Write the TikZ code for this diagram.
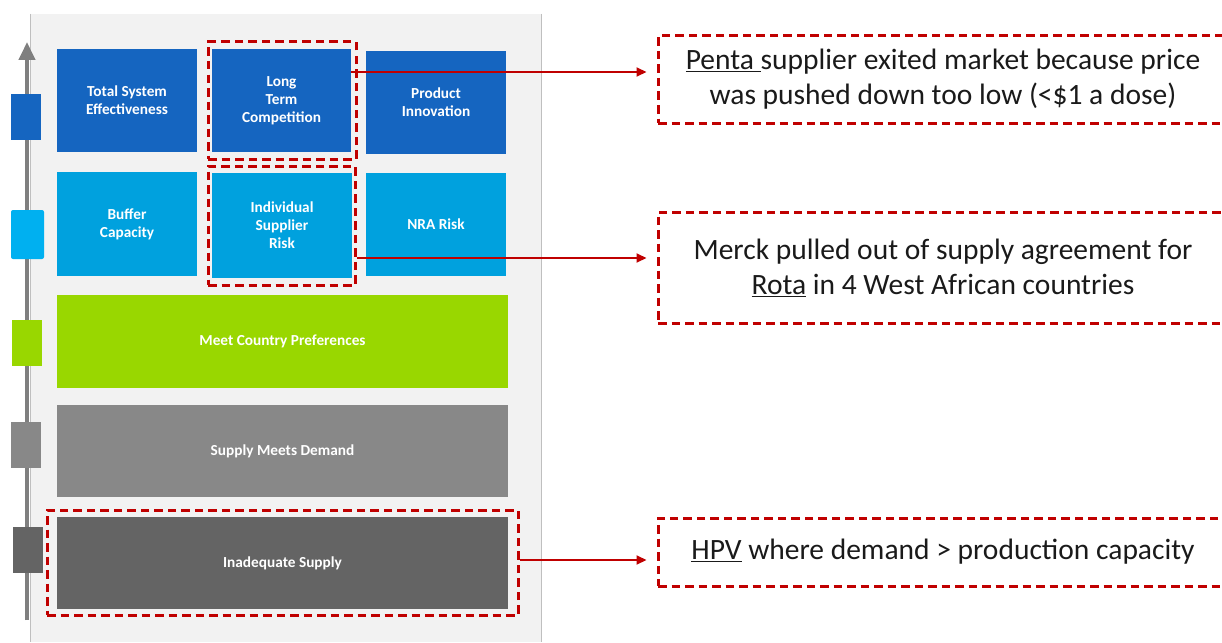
\documentclass[tikz,border=0pt]{standalone}
\usepackage{fontspec}
\setmainfont{Carlito}
\usetikzlibrary{arrows.meta}
\definecolor{dblue}{HTML}{1565C0}
\definecolor{lblue}{HTML}{00A1DE}
\definecolor{legblue}{HTML}{00B0F0}
\definecolor{lgreen}{HTML}{99D700}
\definecolor{mgray}{HTML}{888888}
\definecolor{dgray}{HTML}{646464}
\definecolor{redd}{HTML}{C00000}
\definecolor{panelfill}{HTML}{F2F2F2}
\definecolor{panelline}{HTML}{BFBFBF}
\definecolor{axisgray}{HTML}{7F7F7F}
\definecolor{notetext}{HTML}{1A1A1A}
\tikzset{
  tile/.style={inner sep=0pt, text=white, align=center,
    font=\bfseries\fontsize{15.3}{18}\selectfont},
  legendsq/.style={inner sep=0pt, minimum width=30pt, minimum height=46pt},
  redbox/.style={draw=redd, line width=3pt, dash pattern=on 8.5pt off 5pt, inner sep=0pt},
  notebox/.style={redbox, align=center, font=\fontsize{29.5}{35}\selectfont, text=notetext},
  conn/.style={draw=redd, line width=2pt, -{Triangle[length=10pt,width=9pt]}, shorten >=10pt}
}
\begin{document}
\begin{tikzpicture}[x=1pt,y=-1pt]
\useasboundingbox (0,0) rectangle (1222,642);
\clip (0,0) rectangle (1222,642);
\fill[white] (0,0) rectangle (1222,642);
% panel
\fill[panelfill] (30,14) rectangle (541,642);
\draw[panelline, line width=1pt] (30,14) -- (30,642);
\draw[panelline, line width=1pt] (541,14) -- (541,642);
% axis
\coordinate (axb) at (27,620);
\coordinate (axt) at (27,42);
\draw[axisgray, line width=4pt, -{Triangle[length=18pt,width=16pt]}] (axb) -- (axt);
% legend squares
\node[legendsq, fill=dblue] (lg1) at (26,117) {};
\node[legendsq, fill=legblue, rounded corners=2pt, minimum width=33pt, minimum height=49pt] (lg2) at (27.5,234.5) {};
\node[legendsq, fill=lgreen] (lg3) at (27,343) {};
\node[legendsq, fill=mgray] (lg4) at (26,445) {};
\node[legendsq, fill=dgray] (lg5) at (28,550) {};
% tiles
\node[tile, fill=dblue, minimum width=140pt, minimum height=103pt] (tse) at (127,100.5) {Total System\\Effectiveness};
\node[tile, fill=dblue, minimum width=139pt, minimum height=103pt] (ltc) at (281.5,100.5) {Long\\Term\\Competition};
\node[tile, fill=dblue, minimum width=140pt, minimum height=103pt] (pin) at (436,102.5) {Product\\Innovation};
\node[tile, fill=lblue, minimum width=140pt, minimum height=104pt] (buf) at (127,224) {Buffer\\Capacity};
\node[tile, fill=lblue, minimum width=140pt, minimum height=105pt] (isr) at (282,225.5) {Individual\\Supplier\\Risk};
\node[tile, fill=lblue, minimum width=140pt, minimum height=103pt] (nra) at (436,224.5) {NRA Risk};
\node[tile, fill=lgreen, minimum width=451pt, minimum height=93pt] (mcp) at (282.5,341.5) {Meet Country Preferences};
\node[tile, fill=mgray, minimum width=451pt, minimum height=92pt] (smd) at (282.5,451) {Supply Meets Demand};
\node[tile, fill=dgray, minimum width=451pt, minimum height=92pt] (ias) at (282.5,563) {Inadequate Supply};
% highlight frames
\node[redbox, minimum width=148pt, minimum height=117pt] (d1) at (282,100.5) {};
\node[redbox, minimum width=147pt, minimum height=119pt] (d2) at (281.5,225.5) {};
\node[redbox, minimum width=471pt, minimum height=105pt] (d3) at (282.5,562.5) {};
% notes
\node[notebox, minimum width=570pt, minimum height=87pt] (r1) at (943,79.5)
  {\underline{Penta }supplier exited market because price\\was pushed down too low (<\$1 a dose)};
\node[notebox, minimum width=570pt, minimum height=111pt] (r2) at (943,267.5)
  {Merck pulled out of supply agreement for\\\underline{Rota} in 4 West African countries};
\node[notebox, minimum width=570pt, minimum height=68pt] (r3) at (943,552)
  {\underline{HPV} where demand > production capacity};
% connectors
\draw[conn] ([yshift=28.5pt]ltc.east) -- ([yshift=28.5pt]ltc.east -| r1.west);
\draw[conn] ([yshift=-32.5pt]d2.east) -- ([yshift=-32.5pt]d2.east -| r2.west);
\draw[conn] ([yshift=2.5pt]d3.east) -- ([yshift=2.5pt]d3.east -| r3.west);
\end{tikzpicture}
\end{document}
